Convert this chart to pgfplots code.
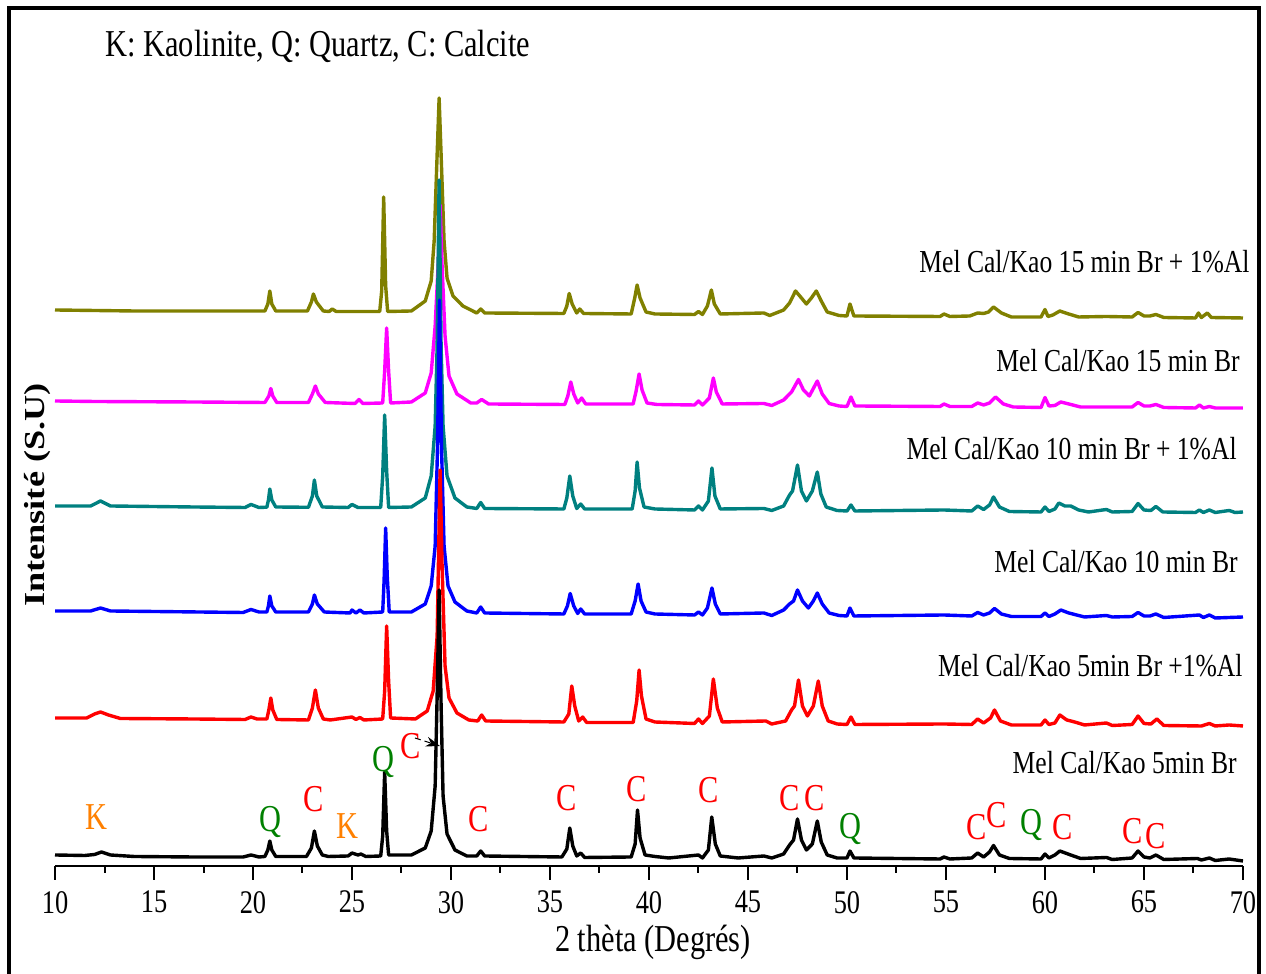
\documentclass[border=0pt]{standalone}
\usepackage{fontspec}
\setmainfont{Liberation Serif}[FakeStretch=0.8]
\newfontfamily\ylfont{Liberation Serif}[FakeStretch=1.25]
\usepackage{pgfplots}
\pgfplotsset{compat=1.18}
\usetikzlibrary{arrows.meta}
\definecolor{cOlive}{RGB}{128,128,0}
\definecolor{cMag}{RGB}{255,0,255}
\definecolor{cTeal}{RGB}{0,128,128}
\definecolor{cBlue}{RGB}{0,0,255}
\definecolor{cRed}{RGB}{255,0,0}
\definecolor{cOrange}{RGB}{255,128,0}
\definecolor{cGreen}{RGB}{0,128,0}
\begin{document}
\begin{tikzpicture}
\useasboundingbox (0,0) rectangle (633pt,487pt);
\begin{axis}[
  at={(27.5pt,54pt)}, anchor=south west,
  scale only axis, width=594pt, height=429pt,
  xmin=10, xmax=70, ymin=0, ymax=858,
  axis x line=bottom, axis y line=none,
  x axis line style={-, line width=1.2pt},
  xtick={10,15,...,70}, minor x tick num=1,
  tick align=outside,
  major tick length=7pt, minor tick length=3.5pt,
  every tick/.style={black, line width=1pt},
  /pgf/number format/assume math mode=true,
  xticklabel style={font=\fontsize{16.5}{17}\selectfont, yshift=-2pt},
  clip=false,
  every axis plot/.append style={line width=1.7pt, line join=round, no markers},
]
% olive: Mel Cal/Kao 15 min Br + 1%Al
\addplot[cOlive] coordinates {
(10,556)(14,555)(17,555)(20.6,555)(20.75,562)(20.85,575)(20.95,562)(21.15,555)
(22.75,555)(22.95,564)(23.05,572)(23.2,564)(23.55,555)(23.85,554.5)(24.0,557)(24.2,554.5)
(26.4,554.5)(26.5,575)(26.6,669)(26.7,580)(26.8,554.5)(28.0,555)(28.7,565)(29.0,585)
(29.15,625)(29.28,700)(29.4,768)(29.52,700)(29.65,625)(29.8,588)(30.1,570)(30.6,560)
(31.3,553)(31.5,557)(31.7,553)(35.7,552.5)(35.85,560)(35.97,572.5)(36.12,562)(36.35,553)
(36.5,557)(36.7,552.5)(39.1,552)(39.28,568)(39.4,581)(39.55,568)(39.85,554)(40.3,552)
(42.3,551.5)(42.5,554.5)(42.7,551.5)(42.95,560)(43.15,576)(43.3,562)(43.6,552)(45.8,553)
(46.1,550.5)(46.8,556)(47.1,563)(47.4,575)(47.7,568)(47.95,562)(48.2,568)(48.45,575)
(48.7,565)(49.0,554)(49.6,550.5)(50.0,550)(50.15,562)(50.35,550)(54.7,549.5)(54.9,552)
(55.2,549.5)(56.2,550)(56.6,553)(56.9,552.5)(57.15,554)(57.4,559)(57.8,553)(58.3,549)
(59.8,549)(60.0,556.5)(60.15,549.5)(60.4,551)(60.75,555)(61.2,552)(61.7,549)(63.1,549.5)
(64.4,549)(64.7,553.5)(65.0,550)(65.3,550)(65.6,551.5)(66.0,548.5)(67.6,548)(67.75,553)
(67.9,548.5)(68.2,553)(68.4,548.5)(70,548)};
% magenta: Mel Cal/Kao 15 min Br
\addplot[cMag] coordinates {
(10,465)(12,464.5)(17,464)(20.6,463.5)(20.8,470)(20.9,477.5)(21.0,470)(21.2,463.5)
(22.8,463.5)(23.0,472)(23.15,480)(23.3,472)(23.65,463.5)(25.15,462.5)(25.35,466.5)(25.55,462.5)
(26.55,463)(26.65,495)(26.75,538)(26.85,495)(26.95,463)(28.0,464)(28.7,473)(29.0,493)
(29.2,540)(29.35,600)(29.45,661)(29.55,600)(29.7,530)(29.9,490)(30.3,472)(31.0,463)
(31.3,463)(31.55,466.5)(31.9,462)(35.75,461.5)(35.9,470)(36.05,484)(36.2,472)(36.4,463)
(36.6,468)(36.8,462)(39.2,462)(39.35,475)(39.5,492)(39.65,476)(39.9,463)(40.4,461.5)
(42.3,461)(42.5,465)(42.7,461)(43.05,468)(43.25,488)(43.4,474)(43.7,462)(45.8,462.5)
(46.2,460.5)(46.8,466)(47.2,474)(47.55,486.5)(47.8,476)(48.1,470)(48.5,485)(48.75,472)
(49.1,462.5)(49.6,460)(50.0,459.5)(50.2,469)(50.4,460)(54.7,459.5)(54.9,462)(55.2,459.5)
(56.3,459.5)(56.6,463)(56.9,461)(57.2,463)(57.5,469)(57.9,462)(58.4,459)(59.8,458.5)
(60.0,468.5)(60.2,460)(60.5,460.5)(60.8,464)(61.3,461.5)(61.8,459)(63.1,459)(64.4,459)
(64.7,463.5)(65.0,460)(65.3,460)(65.6,461.5)(66.0,458.5)(67.6,458)(67.8,461)(68.0,458)
(68.3,459.5)(68.6,458)(70,458)};
% teal: Mel Cal/Kao 10 min Br + 1%Al
\addplot[cTeal] coordinates {
(10,360)(11.8,360)(12.3,365)(12.8,360)(17,359)(19.6,358.5)(19.9,361.5)(20.3,358.5)
(20.7,358.8)(20.78,366)(20.85,377)(20.95,366)(21.15,359)(22.8,358.7)(23.0,370)(23.1,386)
(23.22,370)(23.5,359)(24.8,358.5)(25.0,361.5)(25.3,358.5)(26.45,358.5)(26.55,390)(26.65,451)
(26.75,395)(26.85,358.5)(28.0,359)(28.7,368)(29.0,390)(29.2,440)(29.3,520)(29.4,686)
(29.5,520)(29.6,440)(29.8,390)(30.2,368)(30.8,359)(31.3,357.5)(31.5,363.5)(31.7,357.5)
(35.7,357)(35.85,368)(36.0,390)(36.15,370)(36.35,357.5)(36.55,362)(36.75,357)(39.15,357)
(39.3,375)(39.4,404)(39.52,378)(39.75,359)(40.3,357)(42.3,356)(42.5,360)(42.7,356)
(43.0,365)(43.18,398)(43.33,370)(43.6,357)(45.8,357.5)(46.2,355.5)(46.8,360)(47.1,371)
(47.25,375)(47.5,401)(47.7,375)(47.95,365)(48.25,375)(48.5,394)(48.68,372)(48.95,359)
(49.5,355.5)(50.0,355)(50.2,361)(50.4,355)(54.9,356)(56.3,355)(56.6,360)(56.9,356.5)
(57.2,361)(57.4,369)(57.7,359)(58.2,354.5)(59.8,354)(60.0,359)(60.2,354.5)(60.5,357)
(60.7,363)(61.0,360)(61.3,360)(61.7,356)(62.2,354)(63.1,356.5)(63.4,354)(64.4,354.5)
(64.7,362.5)(65.0,356)(65.35,355.5)(65.6,359.5)(65.95,354)(67.6,353.5)(67.8,356)(68.0,353.5)
(68.3,356)(68.6,353.5)(69.3,355.5)(69.6,353.5)(70,354)};
% blue: Mel Cal/Kao 10 min Br
\addplot[cBlue] coordinates {
(10,255)(11.8,255)(12.3,258)(12.8,255)(19.5,253.5)(19.9,256.5)(20.3,254)(20.7,254)
(20.78,260)(20.85,270)(20.95,260)(21.15,254)(22.8,254)(23.0,262)(23.1,271)(23.25,262)
(23.6,254)(24.9,253)(25.0,256)(25.2,253)(25.4,256)(25.6,253)(26.55,254)(26.62,285)
(26.7,338)(26.78,290)(26.88,254)(28.0,254)(28.7,262)(29.0,280)(29.2,320)(29.32,420)
(29.42,566)(29.52,420)(29.65,320)(29.85,280)(30.2,264)(30.8,255)(31.3,253)(31.5,259)
(31.7,253)(35.7,252)(35.88,260)(36.02,272.5)(36.2,260)(36.4,252.5)(36.55,257)(36.75,252)
(39.1,252)(39.3,265)(39.45,282)(39.6,265)(39.85,254)(40.3,252)(42.3,251)(42.5,254)
(42.7,251)(42.95,258)(43.18,278)(43.35,262)(43.6,252)(45.8,253)(46.2,250.5)(46.8,256)
(47.1,262)(47.3,265)(47.5,276)(47.75,265)(48.05,258)(48.3,265)(48.5,273)(48.75,262)
(49.1,253)(49.6,250.5)(50.0,250)(50.15,258)(50.35,250)(54.9,251)(56.3,250)(56.6,253.5)
(56.9,251)(57.2,253)(57.45,257.5)(57.8,252)(58.3,249.5)(59.8,249.5)(60.0,253)(60.2,249.5)
(60.5,252)(60.8,256)(61.2,253)(61.6,251)(62.0,249)(63.1,250.5)(63.4,249)(64.4,249.5)
(64.7,253.5)(65.0,250)(65.3,250)(65.6,252)(66.0,248.5)(67.8,251)(68.0,248.5)(68.3,251)
(68.6,248)(70,249)};
% red: Mel Cal/Kao 5min Br +1%Al
\addplot[cRed] coordinates {
(10,148)(11.6,148)(12.0,152)(12.3,154)(12.7,151)(13.3,147.5)(17,147)(19.6,146.5)
(19.9,149)(20.2,147)(20.7,147)(20.8,156)(20.9,168)(21.0,156)(21.2,146.5)(22.8,146)
(23.0,158)(23.15,176)(23.3,158)(23.55,147)(23.9,146)(25.0,149)(25.2,146.5)(25.4,148.5)
(25.6,146)(26.55,147)(26.65,175)(26.75,240)(26.85,185)(26.95,148)(28.2,147)(28.8,155)
(29.1,175)(29.3,230)(29.45,396)(29.55,300)(29.7,200)(29.9,168)(30.3,153)(30.9,146)
(31.35,145)(31.55,151)(31.75,145)(35.7,144)(35.95,152)(36.1,180)(36.25,160)(36.45,145)
(36.65,149)(36.85,143.5)(39.2,143.5)(39.38,165)(39.5,196)(39.62,170)(39.85,147)(40.3,144)
(42.3,142.5)(42.5,147)(42.7,142.5)(43.05,150)(43.25,187)(43.45,158)(43.7,144)(45.9,145)
(46.2,142)(46.9,145)(47.2,156)(47.35,160)(47.55,186)(47.75,160)(48.0,150)(48.3,160)
(48.55,185)(48.75,160)(49.05,145)(49.5,142)(50.0,141.5)(50.2,149)(50.4,141.5)(54.9,142)
(56.3,141.5)(56.6,147)(56.9,143)(57.25,148)(57.45,156)(57.75,145)(58.3,141)(59.8,141)
(60.0,146)(60.2,141.5)(60.5,143)(60.75,151)(61.1,146)(61.5,144)(62,141)(63.1,143)
(63.4,140.5)(64.4,141.5)(64.7,150)(65.0,142.5)(65.35,142)(65.65,147)(66.0,140.5)(67.9,140)
(68.3,142.5)(68.6,140)(69.3,141)(70,140)};
% black: Mel Cal/Kao 5min Br
\addplot[black] coordinates {
(10,11)(11.5,10.5)(12.0,11.5)(12.35,14)(12.8,11)(14,9.5)(17,9)(19.5,9)
(19.9,11)(20.3,9)(20.6,9.5)(20.75,16)(20.85,25)(20.95,16)(21.15,9.5)(22.7,9.5)
(22.95,18)(23.1,35)(23.25,20)(23.5,11)(23.8,9.5)(24.8,10)(25.0,13)(25.3,11)
(25.45,12)(25.7,9.5)(26.45,10)(26.55,30)(26.65,94)(26.75,35)(26.85,11)(28.0,11)
(28.7,18)(29.0,35)(29.2,80)(29.3,170)(29.4,276)(29.5,160)(29.6,70)(29.8,32)
(30.2,16)(30.8,10)(31.3,10)(31.5,15)(31.7,10)(35.6,9)(35.85,17)(36.0,38)
(36.15,20)(36.35,10)(36.55,13)(36.75,8.5)(39.1,9)(39.3,22)(39.42,56)(39.55,28)
(39.8,11)(40.3,9.5)(41,8)(42.5,11)(42.7,8)(43.0,16)(43.17,49)(43.35,22)
(43.6,10)(44.5,8)(45.8,10)(46.2,8)(46.8,12)(47.1,21)(47.3,26)(47.5,47)
(47.7,26)(47.95,16)(48.25,22)(48.5,45)(48.7,24)(49.0,11)(49.5,8)(50.0,8)
(50.15,15)(50.35,8)(54.7,7)(54.9,9)(55.2,7)(56.3,8)(56.6,13)(56.9,9)
(57.2,14)(57.4,20.5)(57.7,11)(58.2,7.5)(59.8,7)(60.0,12)(60.2,8)(60.5,11)
(60.75,15)(61.3,11)(61.8,7.5)(63.1,8.5)(63.4,6.5)(64.4,8)(64.7,15)(65.0,9)
(65.3,8)(65.6,11)(66.0,6.5)(67.7,7.5)(67.9,6)(68.3,8)(68.6,5.5)(69.3,7)(70,5)};
% phase annotations
\begin{scope}[every node/.style={font=\fontsize{19}{20}\selectfont, inner sep=0pt}]
\node[text=cOrange] at (axis cs:12.1,49) {K};
\node[text=cGreen]  at (axis cs:20.86,44) {Q};
\node[text=cRed]    at (axis cs:23.08,67) {C};
\node[text=cOrange] at (axis cs:24.75,40) {K};
\node[text=cGreen]  at (axis cs:26.57,104) {Q};
\node[text=cRed]    at (axis cs:27.98,120) {C};
\node[text=cRed]    at (axis cs:31.41,47) {C};
\node[text=cRed]    at (axis cs:35.86,68) {C};
\node[text=cRed]    at (axis cs:39.39,77) {C};
\node[text=cRed]    at (axis cs:43.03,76) {C};
\node[text=cRed]    at (axis cs:47.12,68) {C};
\node[text=cRed]    at (axis cs:48.38,68) {C};
\node[text=cGreen]  at (axis cs:50.2,37) {Q};
\node[text=cRed]    at (axis cs:56.57,39) {C};
\node[text=cRed]    at (axis cs:57.58,51) {C};
\node[text=cGreen]  at (axis cs:59.34,41) {Q};
\node[text=cRed]    at (axis cs:60.9,39) {C};
\node[text=cRed]    at (axis cs:64.44,35) {C};
\node[text=cRed]    at (axis cs:65.61,30) {C};
\end{scope}
\draw[densely dashed, line width=0.5pt, -{Stealth[length=7pt,width=5pt]}] (axis cs:28.18,128) -- (axis cs:29.44,120);
% series labels
\begin{scope}[every node/.style={font=\fontsize{16}{17}\selectfont, anchor=east, inner sep=0pt}]
\node at (axis cs:70.35,604) {Mel Cal/Kao 15 min Br + 1\%Al};
\node at (axis cs:69.85,505) {Mel Cal/Kao 15 min Br};
\node at (axis cs:69.7,417) {Mel Cal/Kao 10 min Br + 1\%Al};
\node at (axis cs:69.75,304) {Mel Cal/Kao 10 min Br};
\node at (axis cs:70.0,200) {Mel Cal/Kao 5min Br +1\%Al};
\node at (axis cs:69.7,103) {Mel Cal/Kao 5min Br};
\end{scope}
\node[font=\fontsize{19}{20}\selectfont, anchor=west, inner sep=0pt] at (axis cs:12.53,820) {K: Kaolinite, Q: Quartz, C: Calcite};
\end{axis}
\node[font=\fontsize{19}{20}\selectfont] at (326.5pt,16pt) {2 thèta (Degrés)};
\node[font=\ylfont\bfseries\fontsize{14.5}{15}\selectfont, rotate=90] at (19pt,239.5pt) {Intensité (S.U)};
\draw[line width=2pt] (4.5pt,-10pt) rectangle (629.5pt,483pt);
\end{tikzpicture}
\end{document}
